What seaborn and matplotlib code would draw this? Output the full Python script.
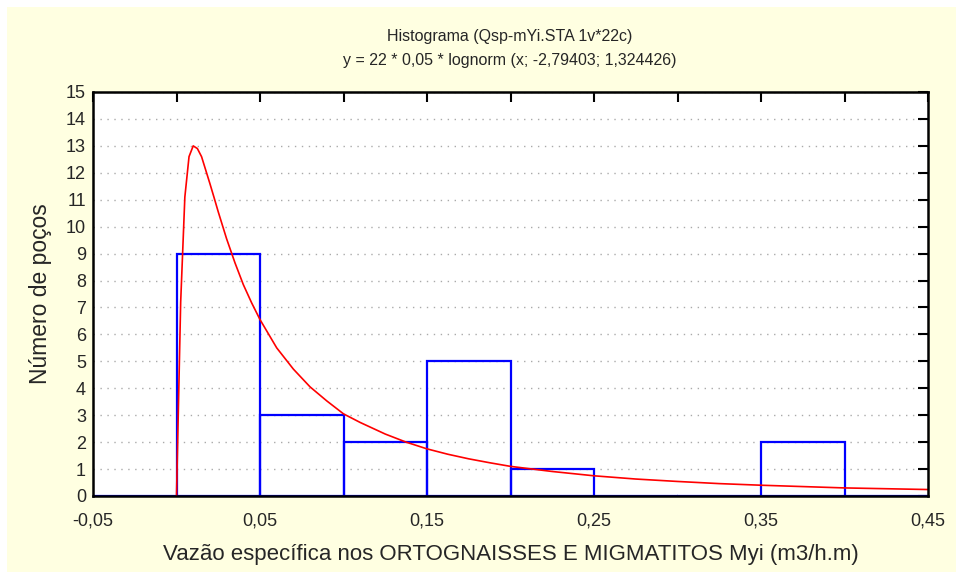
import numpy as np
import pandas as pd
import matplotlib
matplotlib.use('Agg')
import matplotlib.pyplot as plt
import seaborn as sns
from matplotlib.patches import Rectangle

# histogram bins (m3/h.m) and counts
bin_edges = [-0.05, 0.0, 0.05, 0.10, 0.15, 0.20, 0.25, 0.30, 0.35, 0.40, 0.45]
counts = [0, 9, 3, 2, 5, 1, 0, 0, 2, 0]

# fitted lognormal curve
curve_x = [0.0, 0.0025, 0.005, 0.0075, 0.010, 0.0125, 0.015, 0.0175, 0.02, 0.0225,
           0.025, 0.03, 0.035, 0.04, 0.045, 0.05, 0.06, 0.07, 0.08, 0.09,
           0.10, 0.11, 0.125, 0.1375, 0.15, 0.1625, 0.175, 0.1875, 0.20, 0.225,
           0.25, 0.275, 0.30, 0.325, 0.35, 0.375, 0.40, 0.425, 0.45]
curve_y = [0.0, 7.2, 11.1, 12.6, 13.0, 12.9, 12.6, 12.1, 11.6, 11.08,
           10.55, 9.55, 8.66, 7.85, 7.17, 6.55, 5.5, 4.71, 4.05, 3.53,
           3.05, 2.73, 2.3, 2.0, 1.75, 1.55, 1.38, 1.235, 1.1, 0.91,
           0.75, 0.63, 0.54, 0.46, 0.40, 0.35, 0.30, 0.27, 0.24]

xticks = [-0.05, 0.05, 0.15, 0.25, 0.35, 0.45]
xtick_labels = ['-0,05', '0,05', '0,15', '0,25', '0,35', '0,45']

sns.set_style('white')
plt.rcParams['font.family'] = ['Liberation Sans', 'DejaVu Sans']

fig = plt.figure(figsize=(9.56, 5.72), dpi=100, facecolor='#FFFFE1')
# thin white strip at the top and on the left
fig.patches.append(Rectangle((0, 1 - 7 / 572), 1, 7 / 572, transform=fig.transFigure,
                             facecolor='white', edgecolor='none', zorder=-10))
fig.patches.append(Rectangle((0, 0), 7 / 956, 1, transform=fig.transFigure,
                             facecolor='white', edgecolor='none', zorder=-10))
ax = fig.add_axes([93 / 956, 1 - 496 / 572, (928 - 93) / 956, (496 - 92) / 572])
ax.set_facecolor('white')

df = pd.DataFrame({'centro': [(a + b) / 2 for a, b in zip(bin_edges[:-1], bin_edges[1:])],
                   'n': counts})
sns.histplot(data=df, x='centro', weights='n', bins=bin_edges, fill=False,
             element='bars', color='#0000FF', linewidth=1.6, ax=ax, zorder=3)
sns.lineplot(x=curve_x, y=curve_y, color='#FF0000', linewidth=1.2, ax=ax, zorder=4)

ax.set_xlim(-0.05, 0.45)
ax.set_ylim(0, 15)
ax.set_yticks(range(0, 16))
ax.set_xticks(xticks)
ax.set_xticklabels(xtick_labels)
ax.set_xticks(bin_edges, minor=True)
ax.tick_params(axis='both', which='both', direction='in', length=7, width=1.5,
               color='black', labelsize=13, top=True, right=True,
               labeltop=False, labelright=False)
ax.tick_params(axis='x', which='major', pad=12)
ax.tick_params(axis='y', pad=5)
for s in ax.spines.values():
    s.set_color('black')
    s.set_linewidth(1.8)
    s.set_zorder(5)

ax.grid(axis='y', linestyle=(0, (1, 4)), color='#AAAAAA', linewidth=1)
ax.grid(axis='x', visible=False)
ax.set_axisbelow(True)

ax.set_xlabel('Vazão específica nos ORTOGNAISSES E MIGMATITOS Myi (m3/h.m)',
              fontsize=16, labelpad=10)
ax.set_ylabel('Número de poços', fontsize=16.5, labelpad=10)

fig.text(510 / 956, 1 - 37 / 572, 'Histograma (Qsp-mYi.STA 1v*22c)',
         ha='center', va='center', fontsize=11.5)
fig.text(510 / 956, 1 - 60 / 572, 'y = 22 * 0,05 * lognorm (x; -2,79403; 1,324426)',
         ha='center', va='center', fontsize=11.5)

fig.savefig('out.png', dpi=100, facecolor=fig.get_facecolor())
